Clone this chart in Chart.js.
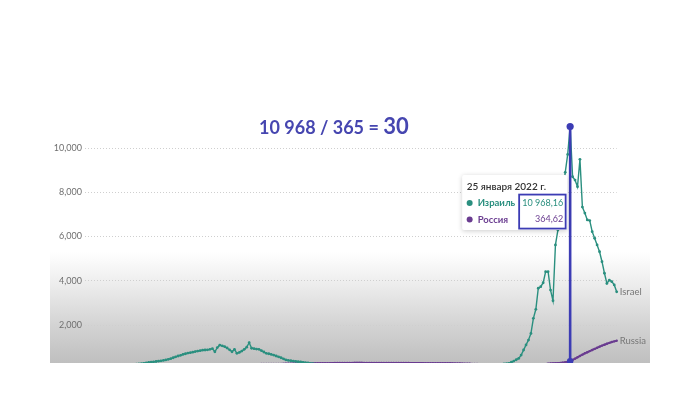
<!DOCTYPE html>
<html>
<head>
<meta charset="utf-8">
<script src="https://cdn.jsdelivr.net/npm/chart.js@4.4.1/dist/chart.umd.min.js"></script>
<style>
  html, body { margin: 0; padding: 0; background: #fff; }
  body { width: 700px; height: 414px; position: relative; overflow: hidden; }
  #shade { position: absolute; left: 50px; top: 252px; width: 600px; height: 111px;
           background: linear-gradient(to bottom, #ffffff 0%, #ececec 30%, #d4d4d4 65%, #bfbfbf 100%); }
  #wrap { position: absolute; left: 0; top: 0; width: 700px; height: 363px; overflow: hidden; }
</style>
</head>
<body>
<div id="shade"></div>
<div id="wrap"><canvas id="chart" width="700" height="380"></canvas></div>
<script>
// daily new cases per million, 11 Jul 2021 .. 14 Feb 2022
const startDay = new Date(2021, 6, 11);
const israel = [
  40,45,50,55,60,70,75,85,95,100,
  110,120,130,140,150,160,170,180,190,200,
  215,225,240,255,270,290,305,320,335,350,
  365,380,400,420,450,480,520,560,600,630,
  670,700,730,750,770,800,820,840,860,870,
  880,900,930,790,980,1090,1060,1020,960,880,
  790,900,720,760,820,900,1000,1200,950,930,
  910,900,840,780,720,700,670,640,600,560,
  520,470,420,400,385,370,355,340,330,315,
  300,285,270,250,235,220,205,190,180,170,
  160,150,140,130,120,115,110,100,95,90,
  85,80,75,72,70,68,66,65,64,63,
  62,62,61,60,60,59,58,58,57,57,
  56,56,55,55,55,56,56,57,58,58,
  59,60,60,61,62,63,64,65,66,68,
  70,72,75,78,82,86,90,95,100,106,
  112,120,128,136,145,155,165,178,190,205,
  220,240,255,270,320,370,430,490,640,870,
  1100,1320,1620,2300,2710,3660,3730,3910,4410,4410,
  3580,3100,5620,6290,7100,8000,8900,9710,10968.16,8700,
  8550,8250,9490,7330,7060,6750,6720,6220,5920,5620,
  5310,4860,4340,3880,4030,3960,3810,3500
];
const russia = [
  165,168,170,172,172,170,168,165,163,160,
  158,155,153,150,150,148,146,145,144,143,
  142,141,140,140,139,139,138,138,138,139,
  139,140,140,141,142,143,144,145,146,148,
  149,150,152,153,155,156,158,160,162,164,
  166,168,170,173,176,179,182,185,188,191,
  194,197,200,204,208,212,216,220,224,228,
  230,232,234,235,236,237,238,238,239,239,
  240,243,246,249,252,255,257,259,261,263,
  265,266,267,268,269,270,271,272,273,274,
  276,278,280,282,284,285,286,287,288,288,
  289,289,289,289,288,288,288,287,287,286,
  286,285,285,284,284,283,283,282,282,281,
  281,280,280,279,279,278,278,277,277,276,
  276,275,275,274,274,273,272,271,270,268,
  266,264,262,259,256,253,250,246,242,238,
  234,229,224,219,214,209,204,198,192,186,
  180,174,168,162,156,150,144,140,138,140,
  145,152,160,170,180,192,205,218,232,246,
  258,266,272,278,284,300,320,340,364.62,420,
  480,540,600,660,720,770,820,870,920,970,
  1020,1070,1110,1150,1190,1230,1260,1290
];
const yTicks = [0, 2000, 4000, 6000, 8000, 10000];
const seriesNames = ['Israel', 'Russia'];
const tooltipNames = ['Израиль', 'Россия'];
const tooltipValues = ['10 968,16', '364,62'];
const tooltipDate = '25 января 2022 г.';
const peakIndex = 198;
const titleText = '10 968 / 365 = ';
const titleResult = '30';

const labels = israel.map((v, i) => {
  const d = new Date(startDay);
  d.setDate(d.getDate() + i);
  return d.toISOString().slice(0, 10);
});

const teal = '#2a8f7f';
const purple = '#6a3c90';
const blue = '#3c3cb4';

const overlay = {
  id: 'overlay',
  afterDatasetsDraw(chart) {
    const ctx = chart.ctx;
    const x = chart.scales.x, y = chart.scales.y;
    const px = x.getPixelForValue(peakIndex);
    const top = y.getPixelForValue(israel[peakIndex]);
    const low = y.getPixelForValue(russia[peakIndex]);
    ctx.save();
    ctx.strokeStyle = blue;
    ctx.lineWidth = 2.6;
    ctx.beginPath();
    ctx.moveTo(px, top);
    ctx.lineTo(px, chart.chartArea.bottom);
    ctx.stroke();
    ctx.fillStyle = blue;
    ctx.beginPath(); ctx.arc(px, top, 3.6, 0, Math.PI * 2); ctx.fill();
    ctx.beginPath(); ctx.arc(px, low, 3.2, 0, Math.PI * 2); ctx.fill();

    // end-of-line series labels
    ctx.font = '9.5px Lato';
    ctx.fillStyle = '#777';
    ctx.textBaseline = 'middle';
    const last = israel.length - 1;
    const lx = x.getPixelForValue(last) + 3;
    ctx.fillText(seriesNames[0], lx, y.getPixelForValue(israel[last]));
    ctx.fillText(seriesNames[1], lx, y.getPixelForValue(russia[last]));
    ctx.restore();
  },
  afterDraw(chart) {
    const ctx = chart.ctx;
    const x = chart.scales.x, y = chart.scales.y;
    const px = x.getPixelForValue(peakIndex);
    const py = y.getPixelForValue(israel[peakIndex]);
    const bx = px - 108, by = py + 48.5, bw = 105, bh = 55;
    ctx.save();
    ctx.shadowColor = 'rgba(0,0,0,0.2)';
    ctx.shadowBlur = 5;
    ctx.shadowOffsetY = 1;
    ctx.fillStyle = '#fff';
    ctx.beginPath();
    ctx.roundRect(bx, by, bw, bh, 2);
    ctx.fill();
    ctx.restore();

    ctx.save();
    ctx.textBaseline = 'middle';
    ctx.font = '600 10px Lato';
    ctx.fillStyle = '#333';
    ctx.fillText(tooltipDate, bx + 4.5, by + 11.5);
    const rows = [[teal, by + 28], [purple, by + 44.5]];
    rows.forEach(([c, ry], k) => {
      ctx.fillStyle = c;
      ctx.beginPath(); ctx.arc(bx + 7.5, ry, 3, 0, Math.PI * 2); ctx.fill();
      ctx.font = 'bold 9.5px Lato';
      ctx.textAlign = 'left';
      ctx.fillText(tooltipNames[k], bx + 15.5, ry);
      ctx.font = '9px Lato';
      ctx.textAlign = 'right';
      ctx.fillText(tooltipValues[k], bx + 101, ry);
    });
    ctx.strokeStyle = blue;
    ctx.lineWidth = 1.8;
    ctx.strokeRect(bx + 57, by + 19.5, 46.5, 34);
    ctx.restore();

    // heading
    ctx.save();
    ctx.fillStyle = '#4646b0';
    ctx.textBaseline = 'alphabetic';
    ctx.font = 'bold 18px Lato';
    const tx = 259, ty = 134;
    ctx.fillText(titleText, tx, ty);
    const w = ctx.measureText(titleText).width;
    ctx.font = 'bold 22px Lato';
    ctx.fillText(titleResult, tx + w, ty);
    ctx.restore();
  }
};

new Chart(document.getElementById('chart'), {
  type: 'line',
  data: {
    labels: labels,
    datasets: [
      {
        label: seriesNames[0],
        data: israel,
        borderColor: teal,
        backgroundColor: teal,
        borderWidth: 1.4,
        pointRadius: 1.4,
        pointBorderWidth: 0,
        clip: false
      },
      {
        label: seriesNames[1],
        data: russia,
        borderColor: purple,
        backgroundColor: purple,
        borderWidth: 2,
        pointRadius: 1.2,
        pointBorderWidth: 0,
        clip: false
      }
    ]
  },
  options: {
    responsive: false,
    animation: false,
    events: [],
    layout: { padding: { left: 0, right: 83.3, top: 148, bottom: 10.75 } },
    plugins: { legend: { display: false }, tooltip: { enabled: false } },
    scales: {
      x: { display: false, offset: false },
      y: {
        min: 0,
        max: 10000,
        afterBuildTicks(scale) { scale.ticks = yTicks.map(v => ({ value: v })); },
        afterFit(scale) { scale.width = 85; },
        border: { display: false, dash: [1, 2] },
        grid: { color: '#cfcfcf', drawTicks: false },
        ticks: {
          padding: 3,
          color: '#6f6f6f',
          font: { family: 'Lato', size: 9 },
          callback: v => v.toLocaleString('en-US')
        }
      }
    }
  },
  plugins: [overlay]
});
</script>
</body>
</html>
